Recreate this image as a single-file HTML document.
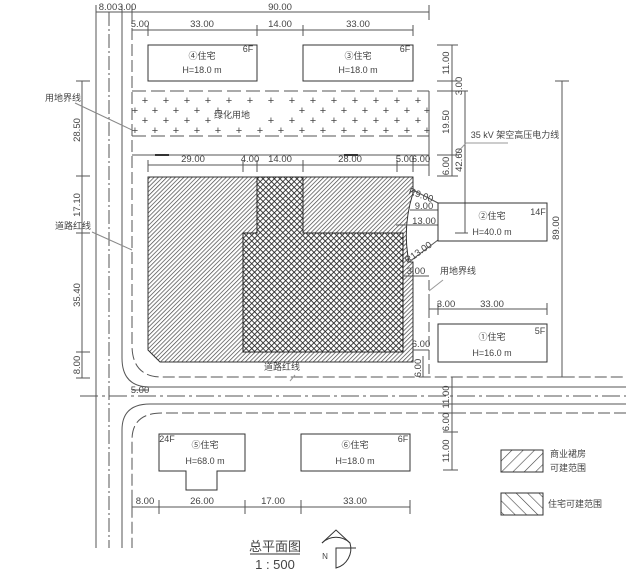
<!DOCTYPE html>
<html><head><meta charset="utf-8">
<style>
html,body{margin:0;padding:0;background:#fff;}
svg{display:block;}
text{font-family:"Liberation Sans","Noto Sans CJK SC",sans-serif;fill:#444;}
</style></head>
<body>
<svg width="626" height="576" viewBox="0 0 626 576" xmlns="http://www.w3.org/2000/svg">
<defs>
<pattern id="hd" patternUnits="userSpaceOnUse" width="3" height="3" patternTransform="rotate(45)">
<rect width="3" height="3" fill="#fff"/><line x1="0" y1="0" x2="0" y2="3" stroke="#444" stroke-width="1.4"/></pattern>
<pattern id="hx" patternUnits="userSpaceOnUse" width="4" height="4" patternTransform="rotate(45)">
<rect width="4" height="4" fill="#fff"/><line x1="0" y1="0" x2="0" y2="4" stroke="#222" stroke-width="1.7"/><line x1="0" y1="0" x2="4" y2="0" stroke="#222" stroke-width="1.7"/></pattern>
<pattern id="ld" patternUnits="userSpaceOnUse" width="8" height="8" patternTransform="rotate(45)">
<rect width="8" height="8" fill="#fff"/><line x1="0" y1="0" x2="0" y2="8" stroke="#444" stroke-width="1.2"/></pattern>
<pattern id="lr" patternUnits="userSpaceOnUse" width="8" height="8" patternTransform="rotate(-45)">
<rect width="8" height="8" fill="#fff"/><line x1="0" y1="0" x2="0" y2="8" stroke="#444" stroke-width="1.2"/></pattern>
</defs>
<g stroke="#555" fill="none" stroke-width="1">
<line x1="96" y1="12" x2="96" y2="548"/>
<line x1="109" y1="12" x2="109" y2="548" stroke-dasharray="14,3,2,3"/>
<path d="M122 12 V358 Q122 387 150 387 H626"/>
<path d="M132 12 V345 Q132 377 162 377 H626" stroke-dasharray="12,4"/>
<line x1="80" y1="396" x2="626" y2="396" stroke-dasharray="18,4,3,4"/>
<path d="M626 404 H150 Q122 404 122 430 V548"/>
<path d="M626 413 H162 Q132 413 132 440 V548" stroke-dasharray="12,4"/>
<line x1="96" y1="12" x2="429" y2="12"/>
<line x1="96" y1="5" x2="96" y2="20"/><line x1="122" y1="5" x2="122" y2="20"/><line x1="132" y1="5" x2="132" y2="20"/><line x1="429" y1="5" x2="429" y2="20"/>
<line x1="132" y1="30" x2="413" y2="30"/>
<line x1="148" y1="25" x2="148" y2="36"/><line x1="257" y1="25" x2="257" y2="36"/><line x1="303" y1="25" x2="303" y2="36"/><line x1="413" y1="25" x2="413" y2="36"/>
<rect x="148" y="45" width="109" height="36" stroke="#333"/>
<rect x="303" y="45" width="110" height="36" stroke="#333"/>
<line x1="132" y1="91" x2="429" y2="91" stroke-dasharray="14,5"/>
<line x1="132" y1="136" x2="429" y2="136" stroke-dasharray="14,5"/>
<line x1="429" y1="91" x2="429" y2="176"/>
<line x1="132" y1="155" x2="429" y2="155"/>
<line x1="148" y1="165" x2="429" y2="165"/>
<line x1="148" y1="160" x2="148" y2="172"/><line x1="243" y1="160" x2="243" y2="172"/><line x1="257" y1="160" x2="257" y2="172"/><line x1="303" y1="160" x2="303" y2="172"/><line x1="397" y1="160" x2="397" y2="172"/><line x1="413" y1="160" x2="413" y2="172"/><line x1="429" y1="160" x2="429" y2="172"/>
<line x1="82" y1="81" x2="82" y2="378"/>
<line x1="76" y1="81" x2="90" y2="81"/><line x1="76" y1="176" x2="90" y2="176"/><line x1="76" y1="233" x2="90" y2="233"/><line x1="76" y1="352" x2="90" y2="352"/><line x1="76" y1="378" x2="90" y2="378"/>
<line x1="75" y1="103" x2="132" y2="130" stroke="#888"/>
<line x1="92" y1="232" x2="132" y2="250" stroke="#888"/>
<line x1="452" y1="45" x2="452" y2="176"/>
<line x1="437" y1="45" x2="458" y2="45"/><line x1="437" y1="81" x2="458" y2="81"/><line x1="437" y1="91" x2="468" y2="91"/><line x1="437" y1="155" x2="458" y2="155"/><line x1="437" y1="176" x2="458" y2="176"/>
<line x1="465" y1="91" x2="465" y2="233"/><line x1="455" y1="233" x2="468" y2="233"/>
<line x1="562" y1="81" x2="562" y2="377"/><line x1="555" y1="81" x2="569" y2="81"/><line x1="555" y1="377" x2="569" y2="377"/>
<line x1="466" y1="143" x2="508" y2="143" stroke="#999"/>
<line x1="466" y1="143" x2="455" y2="155" stroke="#999"/>
<path d="M148 177 H413 V193 Q402 228 409 262 H413 V362 H160 L148 350 Z" fill="url(#hd)" stroke="#333"/>
<path d="M257 177 H303 V233 H403 V352 H243 V233 H257 Z" fill="url(#hx)" stroke="#222"/>
<line x1="413" y1="190" x2="438" y2="203"/>
<line x1="409" y1="262" x2="438" y2="240"/>
<line x1="410" y1="210" x2="438" y2="210"/>
<line x1="396" y1="225" x2="438" y2="225"/>
<line x1="403" y1="276" x2="429" y2="276"/>
<line x1="429" y1="280" x2="429" y2="377" stroke-dasharray="10,4"/>
<line x1="429" y1="291" x2="443" y2="280" stroke="#999"/>
<rect x="438" y="203" width="109" height="38" stroke="#333"/>
<line x1="429" y1="309" x2="547" y2="309"/><line x1="429" y1="303" x2="429" y2="315"/><line x1="438" y1="303" x2="438" y2="315"/><line x1="547" y1="303" x2="547" y2="315"/>
<rect x="438" y="324" width="109" height="38" stroke="#333"/>
<line x1="413" y1="350" x2="429" y2="350"/><line x1="423" y1="356" x2="423" y2="377"/>
<line x1="132" y1="390" x2="148" y2="390"/>
<path d="M159 434 H245 V471 H217 V490 H186 V471 H159 Z" stroke="#333"/>
<rect x="301" y="434" width="109" height="37" stroke="#333"/>
<line x1="132" y1="507" x2="410" y2="507"/>
<line x1="132" y1="500" x2="132" y2="514"/><line x1="159" y1="500" x2="159" y2="514"/><line x1="245" y1="500" x2="245" y2="514"/><line x1="301" y1="500" x2="301" y2="514"/><line x1="410" y1="500" x2="410" y2="514"/>
<line x1="452" y1="377" x2="452" y2="470"/>
<line x1="443" y1="413" x2="458" y2="413"/><line x1="443" y1="432" x2="458" y2="432"/><line x1="443" y1="470" x2="458" y2="470"/>
<line x1="295" y1="375" x2="290" y2="381" stroke="#999"/>
<rect x="501" y="450" width="42" height="22" fill="url(#ld)" stroke="#333"/>
<rect x="501" y="493" width="42" height="22" fill="url(#lr)" stroke="#333"/>
<path d="M322 543 L336 530 L350 543" stroke="#333"/>
<path d="M322 543 A20 20 0 0 1 350 543 A20 20 0 0 1 336 568 V548 H356" stroke="#333"/>
<line x1="250" y1="554" x2="300" y2="554" stroke="#333"/>
</g>
<g fill="#444" font-size="9.5" text-anchor="middle">
<text x="108" y="10">8.00</text><text x="127" y="10">3.00</text><text x="280" y="10">90.00</text>
<text x="140" y="27">5.00</text><text x="202" y="27">33.00</text><text x="280" y="27">14.00</text><text x="358" y="27">33.00</text>
<text x="193" y="162">29.00</text><text x="250" y="162">4.00</text><text x="280" y="162">14.00</text><text x="350" y="162">28.00</text><text x="405" y="162">5.00</text><text x="421" y="162">6.00</text>
<text x="145" y="504">8.00</text><text x="202" y="504">26.00</text><text x="273" y="504">17.00</text><text x="355" y="504">33.00</text>
<text x="140" y="393">5.00</text>
<text x="446" y="307">3.00</text><text x="492" y="307">33.00</text>
<text x="424" y="209">9.00</text><text x="424" y="224">13.00</text><text x="416" y="274">3.00</text><text x="421" y="347">6.00</text>
<text x="420" y="198" transform="rotate(20 420 198)">R9.00</text>
<text x="420" y="255" transform="rotate(-35 420 255)">R13.00</text>
<text x="80" y="130" transform="rotate(-90 80 130)">28.50</text>
<text x="80" y="205" transform="rotate(-90 80 205)">17.10</text>
<text x="80" y="295" transform="rotate(-90 80 295)">35.40</text>
<text x="80" y="365" transform="rotate(-90 80 365)">8.00</text>
<text x="449" y="63" transform="rotate(-90 449 63)">11.00</text>
<text x="462" y="86" transform="rotate(-90 462 86)">3.00</text>
<text x="449" y="122" transform="rotate(-90 449 122)">19.50</text>
<text x="449" y="166" transform="rotate(-90 449 166)">6.00</text>
<text x="462" y="160" transform="rotate(-90 462 160)">42.60</text>
<text x="559" y="228" transform="rotate(-90 559 228)">89.00</text>
<text x="421" y="368" transform="rotate(-90 421 368)">6.00</text>
<text x="449" y="397" transform="rotate(-90 449 397)">11.00</text>
<text x="449" y="422" transform="rotate(-90 449 422)">6.00</text>
<text x="449" y="451" transform="rotate(-90 449 451)">11.00</text>
</g>
<g fill="#444" font-size="9" text-anchor="middle">
<text x="202" y="59">④住宅</text><text x="202" y="73">H=18.0 m</text><text x="248" y="52">6F</text>
<text x="358" y="59">③住宅</text><text x="358" y="73">H=18.0 m</text><text x="405" y="52">6F</text>
<text x="492" y="219">②住宅</text><text x="492" y="235">H=40.0 m</text><text x="538" y="215">14F</text>
<text x="492" y="340">①住宅</text><text x="492" y="356">H=16.0 m</text><text x="540" y="334">5F</text>
<text x="205" y="448">⑤住宅</text><text x="205" y="464">H=68.0 m</text><text x="167" y="442">24F</text>
<text x="355" y="448">⑥住宅</text><text x="355" y="464">H=18.0 m</text><text x="403" y="442">6F</text>
<text x="232" y="118">绿化用地</text>
<text x="63" y="101">用地界线</text>
<text x="73" y="229">道路红线</text>
<text x="282" y="370">道路红线</text>
<text x="458" y="274">用地界线</text>
<text x="515" y="138">35 kV 架空高压电力线</text>
<text x="568" y="457">商业裙房</text><text x="568" y="471">可建范围</text>
<text x="575" y="507">住宅可建范围</text>
<text x="325" y="559" font-size="8">N</text>
</g>
<g fill="#333" font-size="13" text-anchor="middle">
<text x="275" y="551">总平面图</text>
<text x="275" y="569">1 : 500</text>
</g>
<g fill="#444" font-size="11" text-anchor="middle">
<text x="145" y="104">+</text><text x="166" y="104">+</text><text x="187" y="104">+</text><text x="208" y="104">+</text><text x="229" y="104">+</text><text x="250" y="104">+</text><text x="271" y="104">+</text><text x="292" y="104">+</text><text x="313" y="104">+</text><text x="334" y="104">+</text><text x="355" y="104">+</text><text x="376" y="104">+</text><text x="397" y="104">+</text><text x="418" y="104">+</text>
<text x="135" y="114">+</text><text x="155" y="114">+</text><text x="176" y="114">+</text><text x="197" y="114">+</text><text x="218" y="114">+</text><text x="302" y="114">+</text><text x="323" y="114">+</text><text x="344" y="114">+</text><text x="365" y="114">+</text><text x="386" y="114">+</text><text x="407" y="114">+</text><text x="427" y="114">+</text>
<text x="145" y="124">+</text><text x="166" y="124">+</text><text x="187" y="124">+</text><text x="208" y="124">+</text><text x="271" y="124">+</text><text x="292" y="124">+</text><text x="313" y="124">+</text><text x="334" y="124">+</text><text x="355" y="124">+</text><text x="376" y="124">+</text><text x="397" y="124">+</text><text x="418" y="124">+</text>
<text x="135" y="134">+</text><text x="155" y="134">+</text><text x="176" y="134">+</text><text x="197" y="134">+</text><text x="218" y="134">+</text><text x="239" y="134">+</text><text x="260" y="134">+</text><text x="281" y="134">+</text><text x="302" y="134">+</text><text x="323" y="134">+</text><text x="344" y="134">+</text><text x="365" y="134">+</text><text x="386" y="134">+</text><text x="407" y="134">+</text><text x="427" y="134">+</text>
</g>
<g fill="#333"><rect x="155" y="154" width="14" height="2"/><rect x="344" y="154" width="14" height="2"/></g>
</svg>
</body></html>
